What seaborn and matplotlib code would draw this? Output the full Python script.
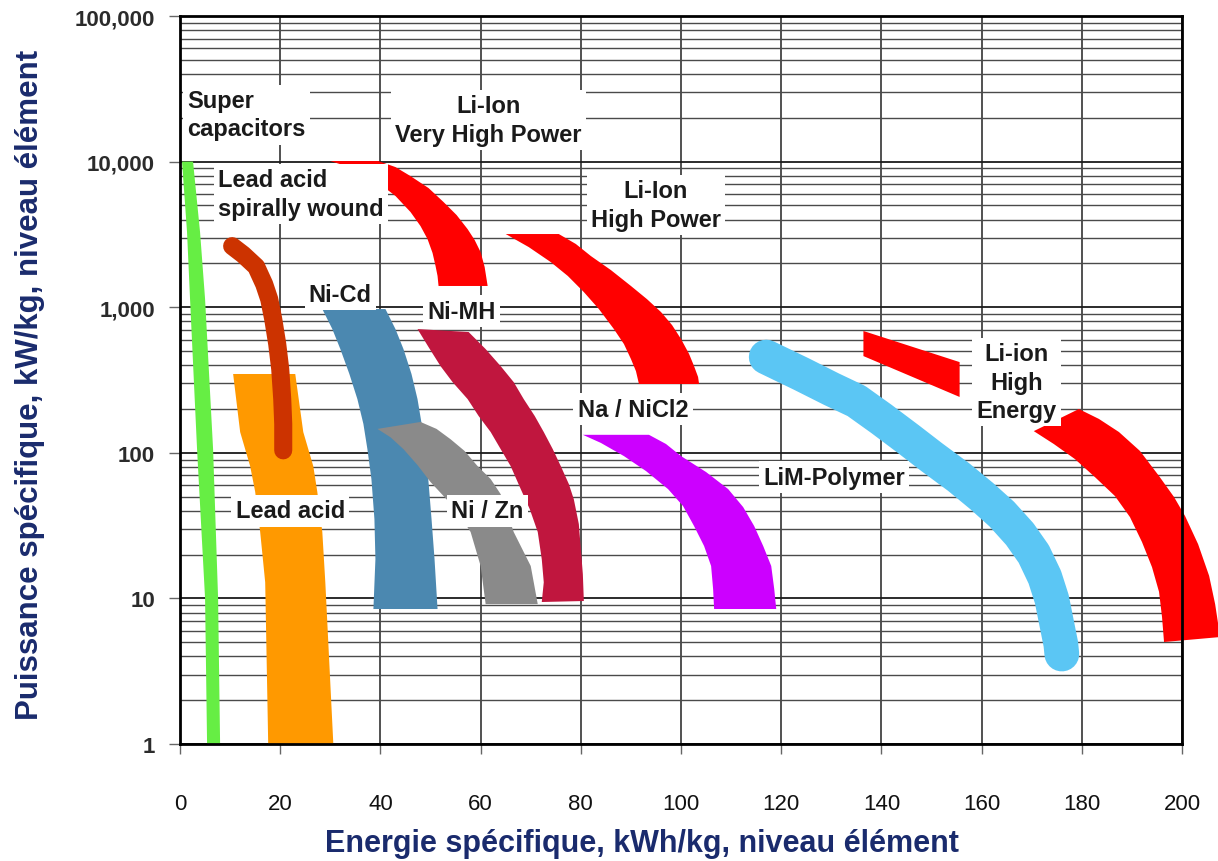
import numpy as np
import matplotlib
matplotlib.use("Agg")
import matplotlib.pyplot as plt
import seaborn as sns
from matplotlib.ticker import FixedLocator, FuncFormatter, LogLocator, NullFormatter

# --- data (energy kWh/kg, power kW/kg) ---
# bands: left (lower) edge and right (upper) edge
supercap_left_e = [0.4, 1.4, 2.0, 3.4, 5.0, 5.4]
supercap_right_e = [2.6, 4.0, 5.0, 6.6, 7.6, 8.0]
supercap_p = [10000, 3280, 1140, 106, 10, 1]

lead_left_e = [10.6, 12.0, 14.0, 15.0, 16.0, 17.0, 17.6]
lead_right_e = [23.0, 24.6, 26.6, 27.4, 28.4, 29.0, 30.6]
lead_p = [348, 139, 81, 54, 28.6, 12.9, 1.0]

spiral_e = [10.4, 12.6, 15.2, 16.8, 17.8, 18.6, 19.4, 20.0, 20.4, 20.6, 20.6]
spiral_p = [2630, 2300, 1900, 1440, 1137, 830, 559, 376, 234, 158, 104]

nicd_left_e = [28.4, 30.4, 32.0, 33.8, 35.4, 36.6, 37.4, 38.2, 38.8, 39.0, 38.6]
nicd_left_p = [972, 708, 516, 348, 234, 158, 106, 66.1, 35.1, 18.6, 8.46]
nicd_right_e = [41.0, 43.0, 44.6, 46.2, 47.4, 48.4, 49.2, 49.6, 50.2, 50.8, 51.4]
nicd_right_p = [972, 708, 516, 348, 234, 146, 90.7, 63, 35.1, 18.6, 8.46]

nizn_left_e = [39.4, 42.0, 44.6, 47.4, 50.0, 52.6, 55.0, 58.0, 60.0, 61.0]
nizn_left_p = [146, 128, 106, 82.4, 63, 50.5, 41.1, 28.6, 16.7, 9.14]
nizn_right_e = [48.0, 51.2, 54.0, 56.8, 59.4, 62.0, 64.0, 66.6, 70.0, 71.4]
nizn_right_p = [163, 146, 124, 103, 81, 66.1, 52, 28.6, 16.7, 9.14]

nimh_left_e = [47.4, 49.6, 52.0, 54.4, 57.4, 59.6, 62.0, 64.0, 66.0, 68.0, 69.8,
               71.4, 72.2, 72.6, 72.2]
nimh_left_p = [708, 533, 394, 306, 234, 179, 139, 106, 81, 56.4, 41.1, 28.6, 18.6,
               12.9, 9.45]
nimh_right_e = [57.6, 61.0, 64.0, 66.6, 68.6, 70.8, 72.6, 74.4, 76.0, 77.6, 78.6,
                79.6, 80.0, 80.4, 80.6]
nimh_right_p = [676, 516, 394, 306, 234, 179, 139, 106, 81, 61.1, 48, 32.4, 21.8,
                14.7, 9.6]

vhp_left_e = [30.0, 35.0, 39.4, 43.0, 46.0, 48.0, 49.4, 50.4, 51.0, 51.4, 51.6]
vhp_left_p = [10100, 8900, 7240, 5810, 4510, 3610, 2940, 2360, 1920, 1640, 1400]
vhp_right_e = [39.6, 43.0, 46.0, 49.6, 52.6, 55.2, 57.4, 58.8, 60.0, 60.8, 61.4]
vhp_right_p = [10100, 9180, 7960, 6590, 5280, 4300, 3440, 2900, 2390, 1890, 1400]

hp_left_e = [65.0, 69.6, 74.0, 77.4, 80.6, 83.6, 86.6, 88.6, 90.0, 91.0, 91.6]
hp_left_p = [3184, 2590, 2042, 1640, 1271, 972, 708, 559, 441, 364, 297]
hp_right_e = [75.6, 79.0, 82.0, 86.0, 90.0, 93.2, 96.0, 98.2, 100.0, 101.6, 102.6,
              103.4, 103.6]
hp_right_p = [3184, 2720, 2248, 1800, 1400, 1137, 927, 755, 605, 478, 394, 332, 297]

nacl_left_e = [80.4, 84.0, 88.6, 93.0, 97.4, 100.4, 102.6, 104.6, 106.0, 106.4, 106.6]
nacl_left_p = [133, 117, 95, 75, 56.4, 43.1, 31.4, 22.9, 16.7, 11.6, 8.46]
nacl_right_e = [93.6, 97.0, 100.0, 105.0, 109.4, 112.4, 114.6, 116.4, 118.0, 118.6, 119.0]
nacl_right_p = [133, 115, 95, 73.8, 56.4, 42.4, 31.4, 22.9, 16.7, 11.6, 8.46]

lim_e = [117.0, 124.0, 130.0, 135.0, 140.0, 145.4, 150.0, 155.4, 160.0, 164.0, 167.6,
         170.4, 172.6, 174.0, 175.0, 175.8, 176.0]
lim_p = [455, 348, 274, 227, 171, 124, 93.6, 68.2, 50.5, 38.0, 27.7, 20.2, 14.0, 9.9,
         6.67, 4.86, 4.15]

he_top_e = [136.4, 155.6, 155.6, 136.4]
he_top_p = [687, 420, 242, 462]
he_upper_e = [170.4, 179.4, 183.4, 187.4, 191.6, 195.4, 198.4, 200.6, 203.2, 205.4,
              206.6, 207.6]
he_upper_p = [141, 200, 171, 139, 103, 69.3, 49.7, 36.8, 23.6, 14.3, 9.14, 5.43]
he_lower_e = [170.4, 174.4, 178.6, 182.6, 186.6, 189.6, 192.0, 194.0, 195.4, 196.0, 196.4]
he_lower_p = [141, 115, 90.7, 68.2, 50.5, 36.2, 24.4, 16.4, 11.1, 7.45, 5.02]

labels = ["Super\ncapacitors", "Lead acid\nspirally wound", "Li-Ion\nVery High Power",
          "Li-Ion\nHigh Power", "Ni-Cd", "Ni-MH", "Na / NiCl2", "Lead acid",
          "Ni / Zn", "LiM-Polymer", "Li-ion\nHigh\nEnergy"]
label_e = [1.4, 7.6, 61.6, 95.0, 32.0, 56.2, 90.4, 22.0, 61.4, 130.6, 167.0]
label_p = [21000, 5990, 19300, 5035, 1233, 942, 200, 39.9, 39.9, 68.2, 306]
label_ha = ["left", "left"] + ["center"] * 9

x_ticks = list(range(0, 201, 20))
y_ticks = [1, 10, 100, 1000, 10000, 100000]

sns.set_theme(style="ticks")
plt.rcParams['font.family'] = ['Liberation Sans', 'DejaVu Sans']
navy = '#1A2B6D'

fig = plt.figure(figsize=(12.18, 8.62), dpi=100)
ax = fig.add_axes([0.1478, 0.1357, 0.8227, 0.8445])
ax.set_yscale('log')
ax.set_xlim(0, 200)
ax.set_ylim(1, 100000)


def band(le, lp, re, rp, color, z=2, clip=True):
    xs = list(le) + list(re)[::-1]
    ys = list(lp) + list(rp)[::-1]
    ax.fill(xs, ys, color=color, lw=0, zorder=z, clip_on=clip)


band(supercap_left_e, supercap_p, supercap_right_e, supercap_p, '#66EE44')
band(lead_left_e, lead_p, lead_right_e, lead_p, '#FF9900')
sns.lineplot(x=spiral_e, y=spiral_p, sort=False, estimator=None, color='#CC3300',
             linewidth=13, solid_capstyle='round', solid_joinstyle='round', ax=ax, zorder=3)
band(nicd_left_e, nicd_left_p, nicd_right_e, nicd_right_p, '#4B88B0')
band(nizn_left_e, nizn_left_p, nizn_right_e, nizn_right_p, '#8A8A8A', z=2.1)
band(nimh_left_e, nimh_left_p, nimh_right_e, nimh_right_p, '#C0163E', z=2.2)
band(vhp_left_e, vhp_left_p, vhp_right_e, vhp_right_p, '#FF0000')
band(hp_left_e, hp_left_p, hp_right_e, hp_right_p, '#FF0000')
band(nacl_left_e, nacl_left_p, nacl_right_e, nacl_right_p, '#CC00FF')
sns.lineplot(x=lim_e, y=lim_p, sort=False, estimator=None, color='#5BC6F4',
             linewidth=25, solid_capstyle='round', solid_joinstyle='round', ax=ax, zorder=3)
ax.fill(he_top_e, he_top_p, color='#FF0000', lw=0, zorder=2)
band(he_lower_e, he_lower_p, he_upper_e, he_upper_p, '#FF0000', clip=False)

for txt, e, p, ha in zip(labels, label_e, label_p, label_ha):
    ax.text(e, p, txt, ha=ha, va='center', fontsize=17, fontweight='bold',
            color='#1a1a1a', linespacing=1.3, zorder=6,
            bbox=dict(facecolor='white', edgecolor='none', pad=3))

# grid
ax.xaxis.set_major_locator(FixedLocator(x_ticks))
ax.yaxis.set_major_locator(FixedLocator(y_ticks))
ax.yaxis.set_minor_locator(LogLocator(base=10, subs=np.arange(2, 10)))
ax.yaxis.set_minor_formatter(NullFormatter())
ax.yaxis.set_major_formatter(FuncFormatter(lambda v, pos: f'{v:,.0f}'))
ax.grid(which='major', axis='x', color='#333333', lw=1.2)
ax.grid(which='major', axis='y', color='#1a1a1a', lw=1.3)
ax.grid(which='minor', axis='y', color='#4a4a4a', lw=1.0)
ax.set_axisbelow(True)

ax.tick_params(axis='y', which='major', length=8, width=1, color='#666666',
               pad=10, labelsize=16, labelcolor='#2b2b2b')
for t in ax.get_yticklabels():
    t.set_fontweight('bold')
ax.tick_params(axis='y', which='minor', length=0)
ax.tick_params(axis='x', which='major', length=7, width=1, color='#666666',
               pad=28, labelsize=16, labelcolor='#111111')

for s in ax.spines.values():
    s.set_color('black')
    s.set_linewidth(2)

ax.set_xlabel('Energie spécifique, kWh/kg, niveau élément', fontsize=22,
              fontweight='bold', color=navy)
ax.xaxis.set_label_coords(0.461, -0.136)
ax.xaxis.label.set_va('center')
ax.set_ylabel('Puissance spécifique, kW/kg, niveau élément', fontsize=22.5,
              fontweight='bold', color=navy)
ax.yaxis.set_label_coords(-0.150, 0.494)
ax.yaxis.label.set_va('center')

fig.savefig('out.png', dpi=100)
